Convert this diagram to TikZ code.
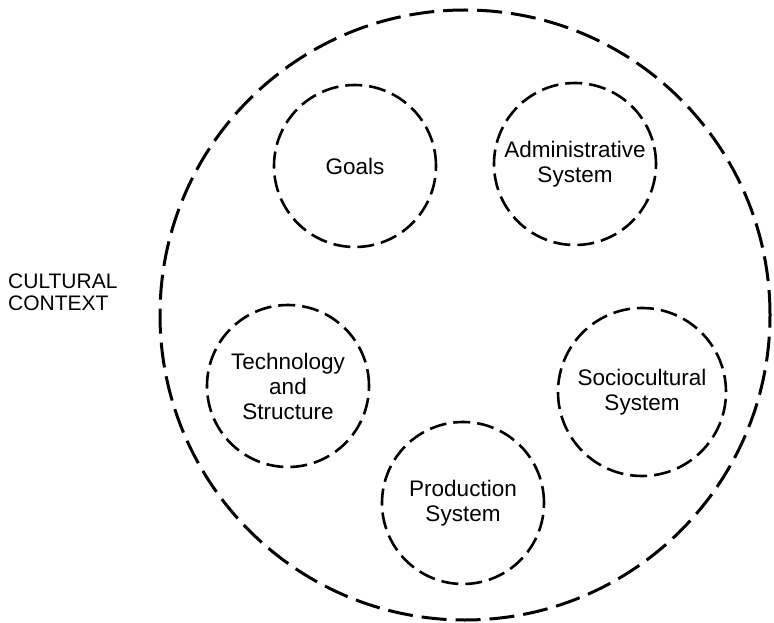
\documentclass[tikz,border=0pt]{standalone}
\usepackage{fontspec}
\setmainfont{Liberation Sans}
\begin{document}
\begin{tikzpicture}[x=1pt,y=-1pt]
\tikzset{
  outerring/.style={circle, draw, line width=3pt, dash pattern=on 25pt off 9pt, minimum size=610pt, inner sep=0pt},
  subsys/.style={circle, draw, line width=2.6pt, dash pattern=on 17pt off 7pt, minimum size=162pt, inner sep=0pt, align=center, font=\fontsize{22.5}{25}\selectfont},
  lbl/.style={align=left, font=\fontsize{21}{22}\selectfont, inner sep=0pt}
}
\useasboundingbox (0,0) rectangle (774,623);
\node[outerring] (ctx) at (465,315) {};
\node[subsys] (goals) at (355,166) {Goals};
\node[subsys] (admin) at (575,164) {Administrative\\System};
\node[subsys] (tech) at (288,386) {Technology\\and\\Structure};
\node[subsys, minimum size=168pt] (socio) at (642,392) {Sociocultural\\System};
\node[subsys] (prod) at (463,503) {Production\\System};
\node[lbl, anchor=west] (cc) at (8,292) {CULTURAL\\CONTEXT};
\end{tikzpicture}
\end{document}
